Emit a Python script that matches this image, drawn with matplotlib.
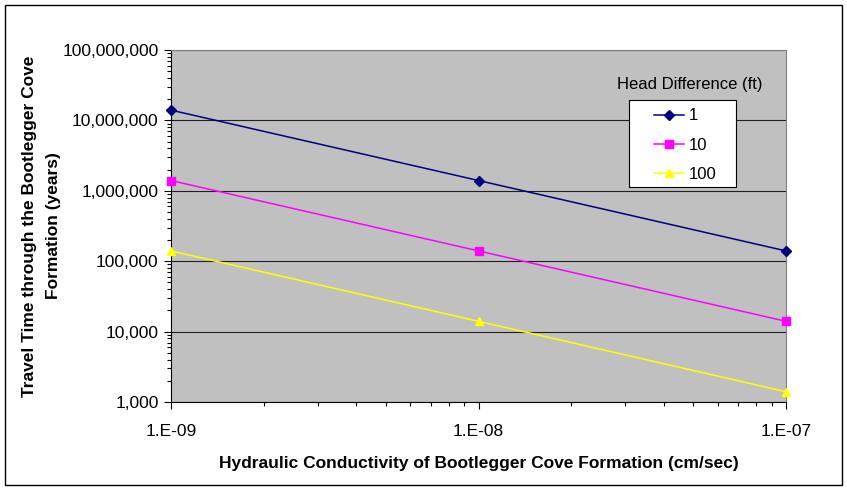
import numpy as np
import matplotlib.pyplot as plt
from matplotlib.patches import Rectangle

plt.rcParams['font.family'] = ['Liberation Sans', 'DejaVu Sans']

conductivity = [1e-9, 1e-8, 1e-7]
head_labels = ['1', '10', '100']
travel_1 = [1.4e7, 1.4e6, 1.4e5]
travel_10 = [1.4e6, 1.4e5, 1.4e4]
travel_100 = [1.4e5, 1.4e4, 1.4e3]
y_ticks = [1e3, 1e4, 1e5, 1e6, 1e7, 1e8]
y_ticklabels = ['1,000', '10,000', '100,000', '1,000,000', '10,000,000', '100,000,000']
x_ticklabels = ['1.E-09', '1.E-08', '1.E-07']

W, H = 847, 491
fig = plt.figure(figsize=(W / 100, H / 100), dpi=100)
ax = fig.add_axes([171 / W, 1 - 402 / H, 615 / W, 352 / H])
ax.set_facecolor('#c0c0c0')

ax.plot(conductivity, travel_1, '-', color='#000080', marker='D', ms=5, lw=1.1, label=head_labels[0], clip_on=False, zorder=3)
ax.plot(conductivity, travel_10, '-', color='#ff00ff', marker='s', ms=6, lw=1.1, label=head_labels[1], clip_on=False, zorder=3)
ax.plot(conductivity, travel_100, '-', color='#ffff00', marker='^', ms=6, lw=1.1, label=head_labels[2], clip_on=False, zorder=3)

ax.set_xscale('log')
ax.set_yscale('log')
ax.set_xlim(1e-9, 1e-7)
ax.set_ylim(1e3, 1e8)
ax.set_yticks(y_ticks)
ax.set_yticklabels(y_ticklabels)
ax.set_xticks(conductivity)
ax.set_xticklabels(x_ticklabels)
ax.tick_params(axis='both', which='major', direction='out', length=5, width=0.8, labelsize=12.5)
ax.tick_params(axis='both', which='minor', direction='out', length=3, width=0.8)
ax.tick_params(axis='x', which='major', pad=11)
ax.tick_params(axis='y', which='major', pad=4)
ax.grid(True, which='major', axis='y', color='#202020', lw=0.8)
ax.set_axisbelow(True)

for s in ['top', 'right']:
    ax.spines[s].set_color('#808080')
for s in ['left', 'bottom']:
    ax.spines[s].set_color('black')

ax.set_xlabel('Hydraulic Conductivity of Bootlegger Cove Formation (cm/sec)', fontsize=12.5, fontweight='bold', labelpad=12)
ax.set_ylabel('Travel Time through the Bootlegger Cove\nFormation (years)', fontsize=12.5, fontweight='bold', labelpad=1, linespacing=1.7)

# legend box drawn separately so padding matches the original
ax.add_patch(Rectangle(((629 - 171) / 615, (402 - 187) / 352), 107 / 615, 87 / 352, transform=ax.transAxes,
                       facecolor='white', edgecolor='black', lw=0.8, zorder=4, clip_on=False))
leg = ax.legend(loc='upper left', bbox_to_anchor=((646 - 171) / 615, (402 - 101) / 352),
                frameon=False, fontsize=12, handlelength=1.8, borderpad=0.45,
                labelspacing=0.85, handletextpad=0.3, borderaxespad=0)
leg.set_zorder(5)
ax.text((690 - 171) / 615, (402 - 84) / 352, 'Head Difference (ft)', transform=ax.transAxes,
        ha='center', va='center', fontsize=12)

fig.patches.append(Rectangle((5 / W, 6 / H), 837 / W, 480 / H, transform=fig.transFigure,
                             fill=False, edgecolor='black', lw=1))

fig.savefig('out.png', dpi=100)
